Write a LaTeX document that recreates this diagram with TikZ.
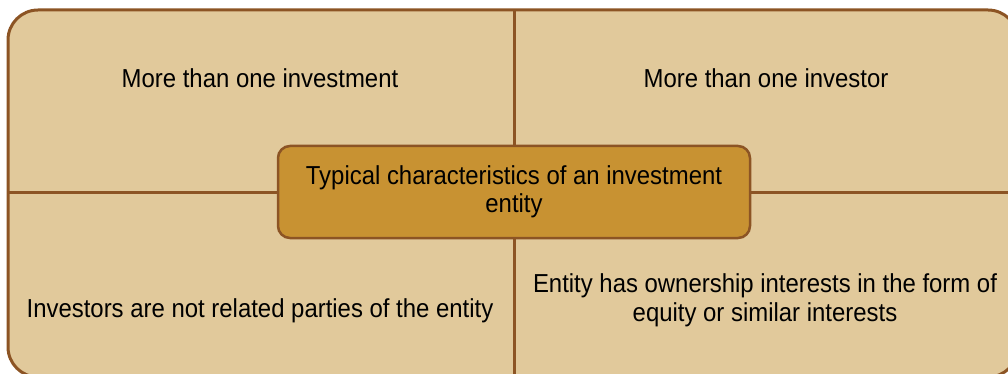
\documentclass[tikz,border=0pt]{standalone}
\usepackage{fontspec}
\setmainfont{Liberation Sans}[FakeStretch=0.92]
\definecolor{cellfill}{RGB}{225,201,155}
\definecolor{edgebrown}{RGB}{140,84,36}
\definecolor{hubfill}{RGB}{200,146,50}
\tikzset{
  outerbox/.style={draw=edgebrown, fill=cellfill, line width=3pt, rounded corners=30pt, inner sep=0pt},
  divider/.style={draw=edgebrown, line width=3pt},
  hubbox/.style={draw=edgebrown, fill=hubfill, line width=2.5pt, rounded corners=12pt, inner sep=0pt, align=center, font=\fontsize{26}{28}\selectfont},
  celltext/.style={inner sep=0pt, align=center, font=\fontsize{26}{29}\selectfont}
}
\begin{document}
\begin{tikzpicture}[x=1pt, y=-1pt]
\clip (0,0) rectangle (1008,374);
\node[outerbox, minimum width=1010pt, minimum height=367pt] (outer) at (513,193.5) {};
\coordinate (vtop) at (514,10);
\coordinate (vbot) at (514,378);
\coordinate (hleft) at (8,192);
\coordinate (hright) at (1018,192);
\draw[divider] (vtop) -- (vbot);
\draw[divider] (hleft) -- (hright);
\node[hubbox, minimum width=472pt, minimum height=92pt] (hub) at (514,192) {Typical characteristics of an investment\\entity};
\node[celltext, anchor=base] (tl) at (260,88) {More than one investment};
\node[celltext, anchor=base] (tr) at (766,88) {More than one investor};
\node[celltext, anchor=base] (bl) at (260,317) {Investors are not related parties of the entity};
\node[celltext] (br) at (765,300) {Entity has ownership interests in the form of\\equity or similar interests};
\end{tikzpicture}
\end{document}
